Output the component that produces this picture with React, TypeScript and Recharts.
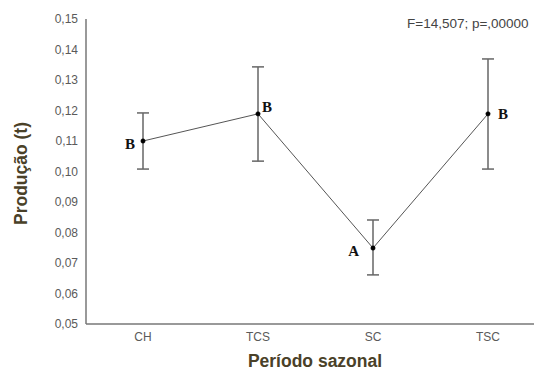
import React from 'react';
import { LineChart, Line, XAxis, YAxis, ErrorBar } from 'recharts';

// Seasonal production means with error bar limits
const periods = ['CH', 'TCS', 'SC', 'TSC'];
const means = [0.110, 0.1189, 0.0749, 0.1189];
const upper = [0.1192, 0.1343, 0.0841, 0.1369];
const lower = [0.1008, 0.1034, 0.0661, 0.1008];
const letters = ['B', 'B', 'A', 'B'];
const yTicks = [0.05, 0.06, 0.07, 0.08, 0.09, 0.1, 0.11, 0.12, 0.13, 0.14, 0.15];
const statText = 'F=14,507; p=,00000';

const chartData = periods.map((p, i) => ({
  period: p,
  value: means[i],
  err: [means[i] - lower[i], upper[i] - means[i]],
}));

// where each letter sits relative to its point
const letterPlacement = [
  { dx: -8, dy: 8, anchor: 'end' },
  { dx: 4, dy: -2, anchor: 'start' },
  { dx: -14, dy: 8, anchor: 'end' },
  { dx: 10, dy: 5, anchor: 'start' },
];

const renderLetter = (props: any) => {
  const { x, y, index } = props;
  const pl = letterPlacement[index];
  return (
    <text
      x={x + pl.dx}
      y={y + pl.dy}
      textAnchor={pl.anchor}
      fontFamily="'Liberation Serif', 'Times New Roman', serif"
      fontWeight="bold"
      fontSize={15}
      fill="#111"
    >
      {letters[index]}
    </text>
  );
};

const fmt = (v: number) => v.toFixed(2).replace('.', ',');

export default function App() {
  return (
    <div style={{ position: 'relative', width: 534, height: 374, background: '#fff', fontFamily: "'Liberation Sans', Arial, sans-serif" }}>
      <style>{'body{margin:0}'}</style>
      <LineChart width={534} height={374} data={chartData} margin={{ top: 19, right: 0, left: 0, bottom: 0 }}>
        <XAxis
          dataKey="period"
          padding={{ left: 57, right: 46 }}
          tickLine={false}
          stroke="#777"
          strokeWidth={1.5}
          height={50}
          tick={{ fill: '#5a5a5a', fontSize: 12 }}
          label={{ value: 'Período sazonal', position: 'insideBottom', offset: 7, dx: 5, fill: '#4a4128', fontSize: 17.5, fontWeight: 'bold' }}
        />
        <YAxis
          domain={[0.05, 0.15]}
          ticks={yTicks}
          tickFormatter={fmt}
          tickLine={false}
          stroke="#777"
          strokeWidth={1.5}
          width={86}
          tick={{ fill: '#5a5a5a', fontSize: 12 }}
          label={{ value: 'Produção (t)', angle: -90, position: 'insideLeft', offset: 21, dy: 2, style: { textAnchor: 'middle' }, fill: '#4a4128', fontSize: 17.5, fontWeight: 'bold' }}
        />
        <Line
          dataKey="value"
          stroke="#555"
          strokeWidth={1}
          dot={{ r: 2.2, fill: '#000', stroke: '#000', strokeWidth: 0.5 }}
          activeDot={false}
          isAnimationActive={false}
          label={renderLetter}
        >
          <ErrorBar dataKey="err" direction="y" width={6} stroke="#666" strokeWidth={1.5} isAnimationActive={false} />
        </Line>
      </LineChart>
      <div style={{ position: 'absolute', left: 407, top: 16, fontSize: 13.5, color: '#444', whiteSpace: 'nowrap' }}>{statText}</div>
    </div>
  );
}
